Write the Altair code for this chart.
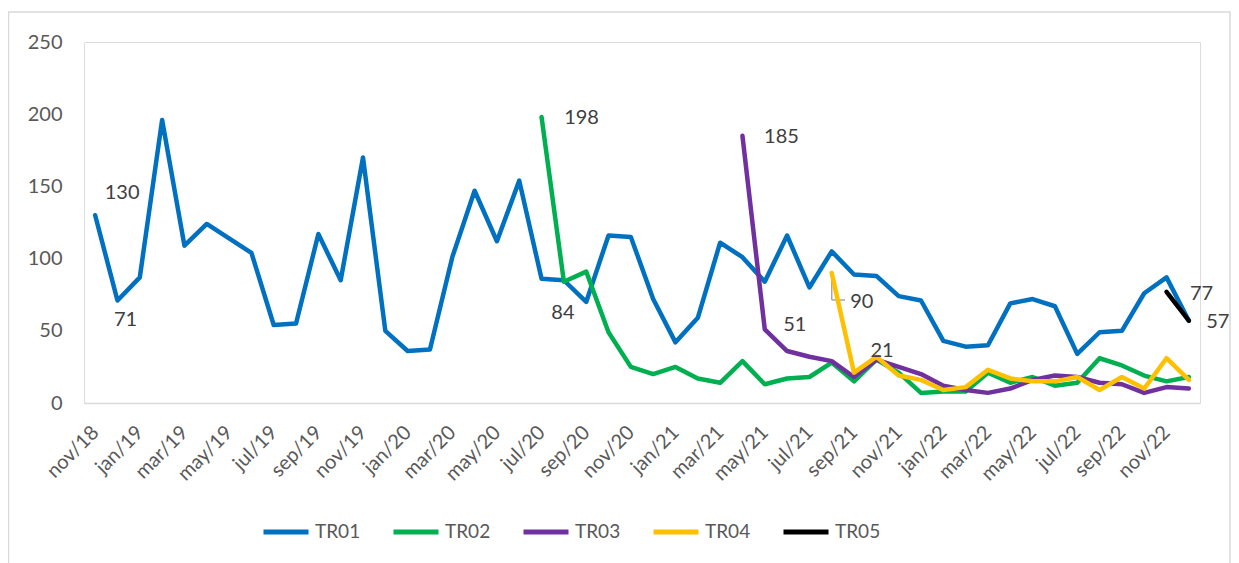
import altair as alt
import pandas as pd

months = [
    "nov/18", "dec/18",
    "jan/19", "feb/19", "mar/19", "apr/19", "may/19", "jun/19",
    "jul/19", "aug/19", "sep/19", "oct/19", "nov/19", "dec/19",
    "jan/20", "feb/20", "mar/20", "apr/20", "may/20", "jun/20",
    "jul/20", "aug/20", "sep/20", "oct/20", "nov/20", "dec/20",
    "jan/21", "feb/21", "mar/21", "apr/21", "may/21", "jun/21",
    "jul/21", "aug/21", "sep/21", "oct/21", "nov/21", "dec/21",
    "jan/22", "feb/22", "mar/22", "apr/22", "may/22", "jun/22",
    "jul/22", "aug/22", "sep/22", "oct/22", "nov/22", "dec/22",
]

tr01 = [130, 71, 87, 196, 109, 124, 114, 104, 54, 55, 117, 85, 170, 50,
        36, 37, 101, 147, 112, 154, 86, 85, 70, 116, 115, 72, 42, 59, 111,
        101, 84, 116, 80, 105, 89, 88, 74, 71, 43, 39, 40, 69, 72, 67, 34,
        49, 50, 76, 87, 57]
tr02_start = "jul/20"
tr02 = [198, 84, 91, 49, 25, 20, 25, 17, 14, 29, 13, 17, 18, 28, 15, 30,
        21, 7, 8, 8, 21, 14, 18, 12, 14, 31, 26, 19, 15, 18]
tr03_start = "apr/21"
tr03 = [185, 51, 36, 32, 29, 18, 30, 25, 20, 12, 9, 7, 10, 16, 19, 18, 14,
        13, 7, 11, 10]
tr04_start = "aug/21"
tr04 = [90, 21, 32, 19, 16, 9, 11, 23, 17, 15, 15, 18, 9, 18, 10, 31, 16]
tr05_start = "nov/22"
tr05 = [77, 57]

series_names = ["TR01", "TR02", "TR03", "TR04", "TR05"]
series_colors = ["#0070C0", "#00B050", "#7030A0", "#FFC000", "#000000"]

tick_labels = months[::2]

# ---- build long table ----
rows = []
for name, start, vals in [
    ("TR01", "nov/18", tr01),
    ("TR02", tr02_start, tr02),
    ("TR03", tr03_start, tr03),
    ("TR04", tr04_start, tr04),
    ("TR05", tr05_start, tr05),
]:
    i0 = months.index(start)
    for k, v in enumerate(vals):
        rows.append({"month": months[i0 + k], "value": v, "series": name,
                     "order": i0 + k, "pos": k})
df = pd.DataFrame(rows)

FONT = "Lato"
GRAY = "#595959"

x_scale = alt.Scale(type="point", padding=0.5, domain=months)
y_scale = alt.Scale(domain=[0, 250], nice=False)

x_enc = alt.X("month:N", sort=months, scale=x_scale,
              axis=alt.Axis(values=tick_labels, title=None, labelAngle=-45,
                            labelAlign="right", labelBaseline="middle",
                            labelFontSize=20, labelColor=GRAY, labelFont=FONT,
                            ticks=False, domainColor="#D9D9D9",
                            domainWidth=1.5, labelPadding=26, grid=False,
                            labelOverlap=False))
y_enc = alt.Y("value:Q", scale=y_scale,
              axis=alt.Axis(values=[0, 50, 100, 150, 200, 250], title=None,
                            labelFontSize=20, labelColor=GRAY, labelFont=FONT,
                            ticks=False, domain=False, grid=False,
                            labelPadding=22))

lines = alt.Chart(df).mark_line(strokeWidth=4.5, strokeJoin="round",
                                strokeCap="round").encode(
    x=x_enc,
    y=y_enc,
    color=alt.Color("series:N",
                    scale=alt.Scale(domain=series_names, range=series_colors),
                    legend=alt.Legend(title=None, orient="none",
                                      direction="horizontal", columns=5,
                                      legendX=177, legendY=465,
                                      symbolType="stroke",
                                      symbolStrokeWidth=5, symbolSize=2025,
                                      labelFontSize=19, labelColor=GRAY,
                                      labelFont=FONT, labelOffset=4,
                                      columnPadding=22)),
    order=alt.Order("order:Q"),
)

# data labels: first two points of each series
lab = df[df["pos"] < 2]
offsets = {
    ("TR01", 0): (27, -22), ("TR01", 1): (8, 20),
    ("TR02", 0): (40, 1), ("TR02", 1): (-1, 31),
    ("TR03", 0): (39, 1), ("TR03", 1): (30, -4),
    ("TR04", 0): (30, 29), ("TR04", 1): (28, -22),
    ("TR05", 0): (35, 2), ("TR05", 1): (29, 1),
}
text_layers = []
for (s, p), (dx, dy) in offsets.items():
    sub = lab[(lab["series"] == s) & (lab["pos"] == p)]
    text_layers.append(
        alt.Chart(sub).mark_text(dx=dx, dy=dy, fontSize=20, font=FONT,
                                 color="#404040", align="center",
                                 baseline="middle").encode(
            x=alt.X("month:N", sort=months, scale=x_scale),
            y=alt.Y("value:Q", scale=y_scale),
            text="value:Q",
        )
    )

# leader line of the moved "90" label (TR04 first point)
lead_pt = lab[(lab["series"] == "TR04") & (lab["pos"] == 0)]
leader_v = alt.Chart(lead_pt).mark_rule(color="#A6A6A6", strokeWidth=1.5).encode(
    x=alt.X("month:N", sort=months, scale=x_scale),
    y=alt.Y("value:Q", scale=y_scale),
    y2=alt.value(258),
)
leader_h = alt.Chart(lead_pt).mark_rule(color="#A6A6A6", strokeWidth=1.5).encode(
    x=alt.X("month:N", sort=months, scale=x_scale),
    x2=alt.value(761),
    y=alt.value(258),
)

border = alt.Chart(pd.DataFrame({"b": [0]})).mark_rect(
    fill="white", fillOpacity=0, stroke="#D9D9D9", strokeWidth=1.5
).encode(x=alt.value(-75.5), x2=alt.value(1146), y=alt.value(-30),
         y2=alt.value(600))

chart = alt.layer(border, leader_v, leader_h, lines, *text_layers).properties(
    width=1116, height=361,
    autosize=alt.AutoSizeParams(type="none"),
    padding={"left": 76, "top": 34, "right": 31, "bottom": 160},
).configure_view(strokeWidth=0).configure(background="white")

chart.save("out.html", embed_options={"renderer": "svg", "actions": False})
